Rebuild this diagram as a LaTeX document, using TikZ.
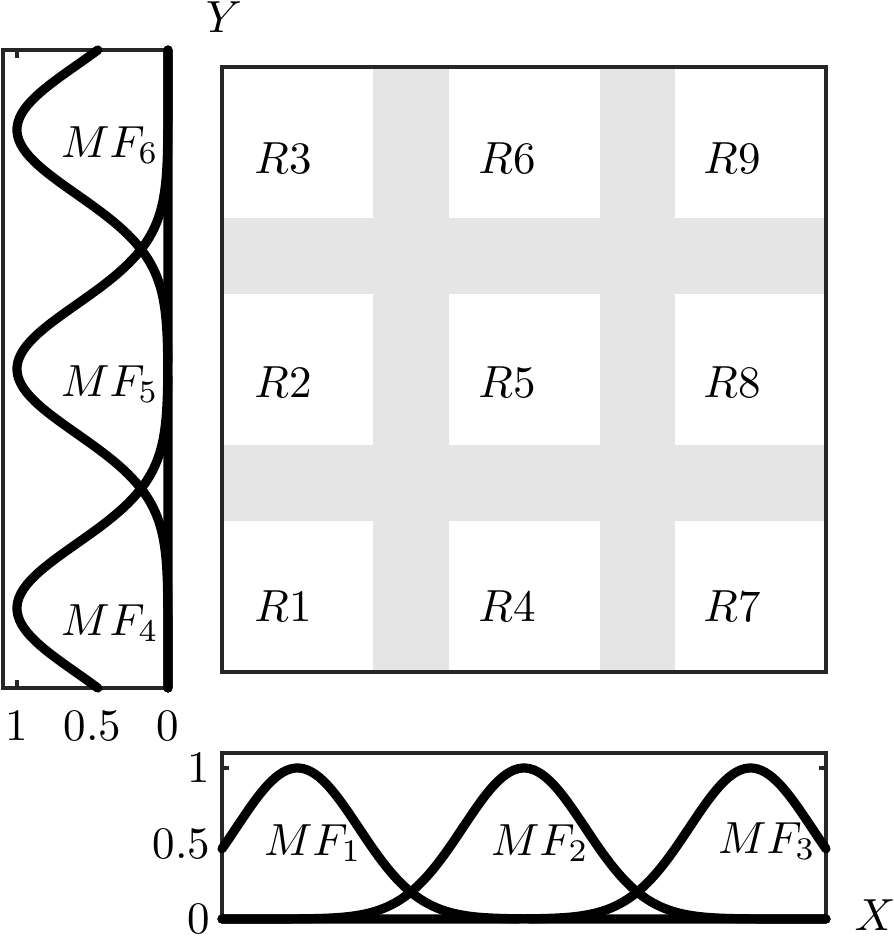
\documentclass[tikz,border=0pt]{standalone}
\usepackage{amsmath}
\usepackage{xcolor}
\usepackage{tikz}
\definecolor{ejes}{gray}{0.15}
\definecolor{banda}{gray}{0.9}

\begin{document}
\begin{tikzpicture}[x=0.5pt, y=-0.5pt,
    every node/.style={inner sep=0pt, scale=2.25},
    marco/.style={draw=ejes, line width=1.7pt},
    tic/.style={draw=ejes, line width=1.7pt},
    curva/.style={line width=4.6pt, line cap=round, line join=round},
    declare function={gss(\t)=exp(max(-12,-0.5*(\t)*(\t)));}]
    \useasboundingbox (0,0) rectangle (894,949);

    % Bandas grises del plano
    \fill[banda] (373,67) rectangle (448.5,672);
    \fill[banda] (599.5,67) rectangle (675,672);
    \fill[banda] (222,218) rectangle (826,294);
    \fill[banda] (222,445) rectangle (826,521);
    \draw[marco] (222,67) rectangle (826,672);

    % Regiones R1 ... R9
    \node[anchor=base] (R3) at (283,173) {$R3$};
    \node[anchor=base] (R6) at (507,173) {$R6$};
    \node[anchor=base] (R9) at (732,173) {$R9$};
    \node[anchor=base] (R2) at (283,397) {$R2$};
    \node[anchor=base] (R5) at (507,397) {$R5$};
    \node[anchor=base] (R8) at (732,397) {$R8$};
    \node[anchor=base] (R1) at (283,621) {$R1$};
    \node[anchor=base] (R4) at (507,621) {$R4$};
    \node[anchor=base] (R7) at (732,621) {$R7$};

    % Panel izquierdo (eje Y)
    \draw[marco] (168,50) -- (3,50) -- (3,688) -- (168,688) -- cycle;
    \draw[tic] (17,50) -- (17,58);
    \draw[tic] (17,688) -- (17,680);
    \draw[curva] plot[domain=50:688, samples=150] ({168-151*gss((\x-129.75)/64.4)}, \x);
    \draw[curva] plot[domain=50:688, samples=150] ({168-151*gss((\x-369)/64.4)}, \x);
    \draw[curva] plot[domain=50:688, samples=150] ({168-151*gss((\x-608.25)/64.4)}, \x);
    \node[anchor=base] (MF6) at (110,157) {$MF_6$};
    \node[anchor=base] (MF5) at (110,396) {$MF_5$};
    \node[anchor=base] (MF4) at (110,635) {$MF_4$};
    \node[anchor=base] (ty1) at (17,740) {1};
    \node[anchor=base] (ty05) at (92.5,740) {0.5};
    \node[anchor=base] (ty0) at (168,740) {0};
    \node[anchor=base] (Y) at (224,32) {$Y$};

    % Panel inferior (eje X)
    \draw[marco] (222,753) rectangle (826,919);
    \draw[tic] (222,768) -- (229,768);
    \draw[tic] (826,768) -- (819,768);
    \draw[curva] plot[domain=222:826, samples=150] (\x, {919-151*gss((\x-297.5)/61)});
    \draw[curva] plot[domain=222:826, samples=150] (\x, {919-151*gss((\x-524)/61)});
    \draw[curva] plot[domain=222:826, samples=150] (\x, {919-151*gss((\x-750.5)/61)});
    \node[anchor=base] (MF1) at (313,855) {$MF_1$};
    \node[anchor=base] (MF2) at (540,855) {$MF_2$};
    \node[anchor=base] (MF3) at (767,853) {$MF_3$};
    \node[anchor=east] (tx1) at (211,768) {1};
    \node[anchor=east] (tx05) at (211,843.5) {0.5};
    \node[anchor=east] (tx0) at (211,919) {0};
    \node[anchor=base] (X) at (875,930) {$X$};
\end{tikzpicture}
\end{document}
